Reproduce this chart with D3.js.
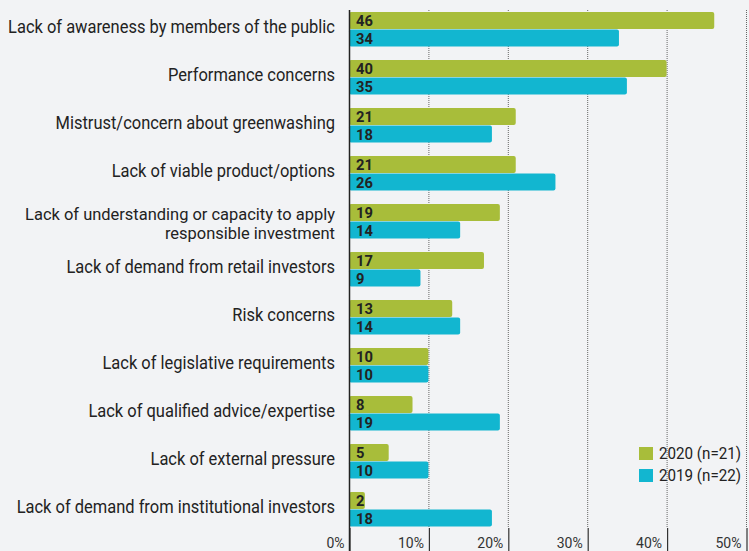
<!DOCTYPE html>
<html><head><meta charset="utf-8">
<script src="https://cdn.jsdelivr.net/npm/d3@7"></script>
<style>body{margin:0;background:#f2f3f5;}svg{display:block;}</style>
</head><body>
<script>
const categories = [
  ["Lack of awareness by members of the public"],
  ["Performance concerns"],
  ["Mistrust/concern about greenwashing"],
  ["Lack of viable product/options"],
  ["Lack of understanding or capacity to apply", "responsible investment"],
  ["Lack of demand from retail investors"],
  ["Risk concerns"],
  ["Lack of legislative requirements"],
  ["Lack of qualified advice/expertise"],
  ["Lack of external pressure"],
  ["Lack of demand from institutional investors"]
];
const values2020 = [46, 40, 21, 21, 19, 17, 13, 10, 8, 5, 2];
const values2019 = [34, 35, 18, 26, 14, 9, 14, 10, 19, 10, 18];
const seriesNames = ["2020 (n=21)", "2019 (n=22)"];
const colors = ["#a8bd3a", "#12b6d0"];
const xTicks = [0, 10, 20, 30, 40, 50];

const W = 749, H = 551;
const FONT = "Roboto, 'Liberation Sans', sans-serif";
const SX = 0.915;
const svg = d3.select("body").append("svg").attr("width", W).attr("height", H);
svg.append("rect").attr("width", W).attr("height", H).attr("fill", "#f2f3f5");

const x = d3.scaleLinear().domain([0, 50]).range([349, 746]);
const pitch = 48, gap = 13;
const y = d3.scaleBand().domain(d3.range(categories.length))
  .range([12, 12 + pitch * categories.length - gap]).paddingInner(gap / pitch).paddingOuter(0);
const bh = y.bandwidth() / 2;

// gridlines dotted
svg.append("g").selectAll("line").data(xTicks.slice(1)).join("line")
  .attr("x1", d => x(d) + 0.5).attr("x2", d => x(d) + 0.5)
  .attr("y1", 10).attr("y2", 528)
  .attr("stroke", "#666").attr("stroke-width", 1).attr("stroke-dasharray", "1,1");

// axis at bottom
const axis = d3.axisBottom(x).tickValues(xTicks).tickFormat(d => d + "%").tickSize(23).tickSizeOuter(0);
const ag = svg.append("g").attr("transform", "translate(0,528)").call(axis);
ag.select(".domain").remove();
ag.selectAll(".tick line").attr("stroke", "#333").attr("stroke-width", 1.2).attr("transform", "translate(0.5,0)");
ag.selectAll(".tick text").attr("text-anchor", "end").attr("x", -5).attr("y", 10).attr("dy", "0.71em")
  .attr("font-family", FONT).attr("font-size", 14).attr("fill", "#333");

// bars
const g = svg.append("g");
categories.forEach((c, i) => {
  [values2020[i], values2019[i]].forEach((v, j) => {
    const y0 = y(i) + j * bh;
    g.append("rect").attr("x", x(0)).attr("y", y0).attr("width", x(v) - x(0)).attr("height", bh - 0.5)
      .attr("rx", 2).attr("fill", colors[j]);
    g.append("text").attr("transform", `translate(${x(0) + 7},${y0 + bh / 2}) scale(0.95,1)`).attr("dy", "0.36em")
      .attr("font-family", FONT).attr("font-weight", "bold")
      .attr("font-size", 15.5).attr("fill", "#222").text(v);
  });
  const lines = c;
  const lh = 19;
  const fs = lines.length > 1 ? 17 : 18;
  const cy = y(i) + bh + (lines.length > 1 ? 2 : -2.5);
  lines.forEach((s, k) => {
    g.append("text").attr("transform", `translate(335,${cy + (k - (lines.length - 1) / 2) * lh}) scale(${SX * 18 / fs},1)`)
      .attr("dy", "0.36em")
      .attr("text-anchor", "end").attr("font-family", FONT)
      .attr("font-size", fs).attr("fill", "#222").text(s);
  });
});

// axis vertical line
svg.append("line").attr("x1", x(0) + 0.5).attr("x2", x(0) + 0.5).attr("y1", 10).attr("y2", H)
  .attr("stroke", "#222").attr("stroke-width", 1.5);

// legend
const lg = svg.append("g").attr("transform", "translate(639,447)");
seriesNames.forEach((s, j) => {
  lg.append("rect").attr("x", 0).attr("y", j * 22).attr("width", 14).attr("height", 13).attr("fill", colors[j]);
  lg.append("text").attr("transform", `translate(20,${j * 22 + 6.5}) scale(0.92,1)`).attr("dy", "0.36em")
    .attr("font-family", FONT).attr("font-size", 16.5).attr("fill", "#222").text(s);
});
</script>
</body></html>
